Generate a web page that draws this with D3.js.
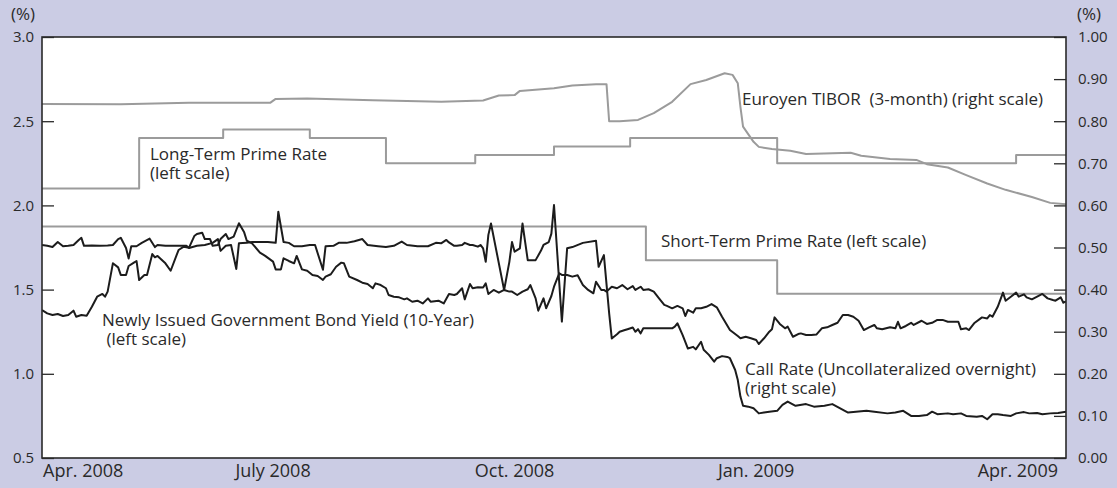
<!DOCTYPE html>
<html>
<head>
<meta charset="utf-8">
<script src="https://cdn.jsdelivr.net/npm/d3@7"></script>
<style>
  html, body { margin: 0; padding: 0; background: #cbcce4; }
  svg { display: block; font-family: "Open Sans", "Noto Sans", sans-serif; }
</style>
</head>
<body>
<svg id="chart" width="1117" height="488"></svg>
<script>
// --- data ---

var leftTicks = [0.5, 1.0, 1.5, 2.0, 2.5, 3.0];
var rightTicks = [0.0, 0.1, 0.2, 0.3, 0.4, 0.5, 0.6, 0.7, 0.8, 0.9, 1.0];
var xTickDates = ["2008-04-01", "2008-07-01", "2008-10-01", "2009-01-01", "2009-04-01"];
var xTickLabels = ["Apr. 2008", "July 2008", "Oct. 2008", "Jan. 2009", "Apr. 2009"];

// Euroyen TIBOR 3-month, right scale
var tibor = [
  ["2008-04-04",0.841],["2008-05-04",0.840],["2008-05-30",0.844],["2008-06-30",0.844],
  ["2008-07-02",0.853],["2008-07-14",0.854],["2008-08-08",0.850],["2008-09-03",0.846],
  ["2008-09-19",0.849],["2008-09-25",0.861],["2008-10-01",0.862],["2008-10-03",0.872],
  ["2008-10-16",0.878],["2008-10-23",0.885],["2008-11-01",0.888],["2008-11-05",0.888],
  ["2008-11-06",0.800],["2008-11-10",0.800],["2008-11-17",0.803],["2008-11-23",0.819],
  ["2008-11-30",0.846],["2008-12-07",0.888],["2008-12-13",0.898],["2008-12-20",0.914],
  ["2008-12-23",0.910],["2008-12-25",0.890],["2008-12-26",0.834],["2008-12-27",0.787],
  ["2008-12-31",0.751],["2009-01-02",0.739],["2009-01-07",0.734],["2009-01-14",0.730],
  ["2009-01-20",0.722],["2009-02-06",0.725],["2009-02-10",0.718],["2009-02-21",0.710],
  ["2009-03-03",0.708],["2009-03-07",0.698],["2009-03-15",0.690],["2009-03-22",0.672],
  ["2009-03-30",0.652],["2009-04-06",0.637],["2009-04-16",0.620],["2009-04-23",0.606],
  ["2009-04-29",0.603]
];

// Long-term prime rate, left scale (value from that date on)
var longPrime = [
  ["2008-04-04",2.10],["2008-05-11",2.40],["2008-06-12",2.45],["2008-07-15",2.40],
  ["2008-08-13",2.25],["2008-09-16",2.30],["2008-10-16",2.35],["2008-11-14",2.40],
  ["2009-01-09",2.25],["2009-04-10",2.30],["2009-04-29",2.30]
];

// Short-term prime rate, left scale (value from that date on)
var shortPrime = [
  ["2008-04-04",1.875],["2008-11-20",1.675],["2009-01-09",1.475],["2009-04-29",1.475]
];

// Newly issued 10-year government bond yield, left scale
var bondYield = [
  ["2008-04-04",1.379],["2008-04-06",1.359],["2008-04-08",1.349],["2008-04-10",1.355],
  ["2008-04-12",1.343],["2008-04-14",1.349],["2008-04-16",1.375],["2008-04-17",1.339],
  ["2008-04-19",1.349],["2008-04-21",1.345],["2008-04-23",1.398],["2008-04-25",1.458],
  ["2008-04-27",1.474],["2008-04-28",1.458],["2008-04-29",1.488],["2008-05-01",1.656],
  ["2008-05-03",1.632],["2008-05-04",1.587],["2008-05-06",1.587],["2008-05-07",1.640],
  ["2008-05-09",1.660],["2008-05-10",1.670],["2008-05-11",1.557],["2008-05-13",1.587],
  ["2008-05-14",1.587],["2008-05-16",1.711],["2008-05-17",1.692],["2008-05-18",1.700],
  ["2008-05-21",1.656],["2008-05-23",1.612],["2008-05-26",1.735],["2008-05-28",1.755],
  ["2008-05-30",1.749],["2008-06-01",1.818],["2008-06-02",1.830],["2008-06-04",1.838],
  ["2008-06-05",1.800],["2008-06-07",1.800],["2008-06-08",1.760],["2008-06-10",1.765],
  ["2008-06-11",1.800],["2008-06-13",1.830],["2008-06-14",1.800],["2008-06-16",1.815],
  ["2008-06-18",1.894],["2008-06-20",1.840],["2008-06-21",1.790],["2008-06-23",1.775],
  ["2008-06-26",1.720],["2008-06-28",1.700],["2008-07-01",1.666],["2008-07-02",1.620],
  ["2008-07-04",1.620],["2008-07-05",1.686],["2008-07-07",1.670],["2008-07-09",1.656],
  ["2008-07-10",1.700],["2008-07-12",1.620],["2008-07-14",1.612],["2008-07-16",1.587],
  ["2008-07-18",1.581],["2008-07-20",1.557],["2008-07-21",1.577],["2008-07-23",1.591],
  ["2008-07-25",1.636],["2008-07-27",1.660],["2008-07-28",1.656],["2008-07-30",1.577],
  ["2008-08-02",1.557],["2008-08-04",1.541],["2008-08-06",1.533],["2008-08-08",1.508],
  ["2008-08-09",1.537],["2008-08-11",1.527],["2008-08-13",1.508],["2008-08-14",1.468],
  ["2008-08-16",1.458],["2008-08-18",1.454],["2008-08-20",1.442],["2008-08-21",1.448],
  ["2008-08-23",1.428],["2008-08-25",1.434],["2008-08-27",1.418],["2008-08-29",1.448],
  ["2008-08-30",1.428],["2008-09-02",1.434],["2008-09-04",1.418],["2008-09-06",1.474],
  ["2008-09-08",1.468],["2008-09-09",1.474],["2008-09-11",1.508],["2008-09-12",1.442],
  ["2008-09-14",1.533],["2008-09-15",1.508],["2008-09-17",1.514],["2008-09-19",1.512],
  ["2008-09-20",1.537],["2008-09-21",1.474],["2008-09-23",1.498],["2008-09-25",1.482],
  ["2008-09-27",1.498],["2008-09-29",1.488],["2008-09-30",1.488],["2008-10-02",1.468],
  ["2008-10-04",1.488],["2008-10-06",1.502],["2008-10-07",1.527],["2008-10-09",1.448],
  ["2008-10-10",1.375],["2008-10-12",1.448],["2008-10-13",1.389],["2008-10-15",1.462],
  ["2008-10-16",1.517],["2008-10-18",1.597],["2008-10-19",1.587],["2008-10-21",1.587],
  ["2008-10-23",1.577],["2008-10-25",1.585],["2008-10-27",1.527],["2008-10-29",1.498],
  ["2008-10-31",1.478],["2008-11-01",1.547],["2008-11-03",1.498],["2008-11-04",1.498],
  ["2008-11-05",1.488],["2008-11-07",1.517],["2008-11-09",1.508],["2008-11-11",1.527],
  ["2008-11-13",1.502],["2008-11-15",1.521],["2008-11-16",1.498],["2008-11-18",1.517],
  ["2008-11-19",1.498],["2008-11-21",1.502],["2008-11-23",1.488],["2008-11-25",1.448],
  ["2008-11-27",1.409],["2008-11-28",1.403],["2008-11-30",1.389],["2008-12-02",1.403],
  ["2008-12-04",1.389],["2008-12-05",1.343],["2008-12-06",1.379],["2008-12-08",1.363],
  ["2008-12-09",1.389],["2008-12-11",1.389],["2008-12-13",1.398],["2008-12-15",1.414],
  ["2008-12-17",1.395],["2008-12-19",1.339],["2008-12-22",1.260],["2008-12-25",1.224],
  ["2008-12-26",1.211],["2008-12-28",1.220],["2008-12-30",1.211],["2009-01-01",1.201],
  ["2009-01-02",1.177],["2009-01-04",1.211],["2009-01-06",1.250],["2009-01-07",1.264],
  ["2009-01-08",1.335],["2009-01-10",1.296],["2009-01-12",1.270],["2009-01-13",1.280],
  ["2009-01-15",1.220],["2009-01-17",1.236],["2009-01-18",1.240],["2009-01-20",1.230],
  ["2009-01-22",1.230],["2009-01-24",1.234],["2009-01-26",1.270],["2009-01-28",1.276],
  ["2009-01-30",1.290],["2009-02-01",1.303],["2009-02-03",1.349],["2009-02-05",1.349],
  ["2009-02-07",1.339],["2009-02-09",1.315],["2009-02-11",1.260],["2009-02-13",1.276],
  ["2009-02-15",1.290],["2009-02-16",1.270],["2009-02-18",1.264],["2009-02-21",1.276],
  ["2009-02-23",1.270],["2009-02-24",1.309],["2009-02-25",1.270],["2009-02-27",1.284],
  ["2009-03-01",1.303],["2009-03-02",1.290],["2009-03-05",1.315],["2009-03-07",1.296],
  ["2009-03-09",1.303],["2009-03-11",1.320],["2009-03-13",1.320],["2009-03-15",1.309],
  ["2009-03-17",1.309],["2009-03-19",1.309],["2009-03-20",1.264],["2009-03-22",1.270],
  ["2009-03-23",1.260],["2009-03-25",1.300],["2009-03-28",1.335],["2009-03-30",1.329],
  ["2009-03-31",1.349],["2009-04-01",1.339],["2009-04-03",1.398],["2009-04-05",1.482],
  ["2009-04-06",1.434],["2009-04-08",1.458],["2009-04-10",1.482],["2009-04-11",1.458],
  ["2009-04-13",1.472],["2009-04-14",1.454],["2009-04-16",1.442],["2009-04-18",1.458],
  ["2009-04-20",1.474],["2009-04-22",1.448],["2009-04-24",1.438],["2009-04-25",1.434],
  ["2009-04-27",1.454],["2009-04-28",1.422],["2009-04-29",1.430]
];

// Call rate (uncollateralized overnight), right scale
var callRate = [
  ["2008-04-04",0.506],["2008-04-06",0.504],["2008-04-08",0.501],["2008-04-10",0.513],
  ["2008-04-12",0.503],["2008-04-14",0.504],["2008-04-16",0.506],["2008-04-18",0.518],
  ["2008-04-19",0.523],["2008-04-20",0.504],["2008-04-23",0.505],["2008-04-26",0.504],
  ["2008-04-29",0.505],["2008-05-01",0.506],["2008-05-03",0.520],["2008-05-04",0.523],
  ["2008-05-06",0.499],["2008-05-07",0.474],["2008-05-08",0.503],["2008-05-10",0.503],
  ["2008-05-12",0.511],["2008-05-15",0.521],["2008-05-17",0.501],["2008-05-18",0.506],
  ["2008-05-21",0.504],["2008-05-27",0.504],["2008-05-29",0.504],["2008-05-30",0.499],
  ["2008-06-02",0.504],["2008-06-05",0.506],["2008-06-08",0.511],["2008-06-10",0.520],
  ["2008-06-11",0.492],["2008-06-13",0.504],["2008-06-15",0.506],["2008-06-17",0.449],
  ["2008-06-18",0.510],["2008-06-21",0.511],["2008-06-23",0.513],["2008-06-26",0.513],
  ["2008-06-29",0.513],["2008-07-02",0.511],["2008-07-03",0.585],["2008-07-05",0.513],
  ["2008-07-07",0.511],["2008-07-09",0.503],["2008-07-12",0.503],["2008-07-15",0.506],
  ["2008-07-17",0.506],["2008-07-20",0.447],["2008-07-21",0.503],["2008-07-24",0.504],
  ["2008-07-26",0.511],["2008-07-29",0.511],["2008-08-01",0.515],["2008-08-04",0.520],
  ["2008-08-06",0.506],["2008-08-10",0.503],["2008-08-13",0.501],["2008-08-16",0.504],
  ["2008-08-19",0.514],["2008-08-21",0.506],["2008-08-25",0.503],["2008-08-29",0.503],
  ["2008-09-01",0.511],["2008-09-03",0.510],["2008-09-05",0.518],["2008-09-06",0.512],
  ["2008-09-08",0.504],["2008-09-09",0.504],["2008-09-11",0.506],["2008-09-12",0.511],
  ["2008-09-14",0.506],["2008-09-15",0.506],["2008-09-17",0.502],["2008-09-18",0.506],
  ["2008-09-19",0.498],["2008-09-20",0.466],["2008-09-21",0.530],["2008-09-22",0.557],
  ["2008-09-27",0.399],["2008-09-29",0.466],["2008-09-30",0.513],["2008-10-01",0.490],
  ["2008-10-03",0.498],["2008-10-04",0.557],["2008-10-06",0.470],["2008-10-08",0.470],
  ["2008-10-09",0.470],["2008-10-11",0.492],["2008-10-12",0.506],["2008-10-14",0.513],
  ["2008-10-15",0.533],["2008-10-16",0.601],["2008-10-19",0.324],["2008-10-21",0.498],
  ["2008-10-23",0.501],["2008-10-27",0.511],["2008-11-01",0.516],["2008-11-02",0.454],
  ["2008-11-04",0.482],["2008-11-06",0.344],["2008-11-07",0.284],["2008-11-09",0.294],
  ["2008-11-10",0.300],["2008-11-12",0.304],["2008-11-13",0.306],["2008-11-15",0.310],
  ["2008-11-16",0.300],["2008-11-17",0.306],["2008-11-18",0.296],["2008-11-19",0.308],
  ["2008-11-25",0.308],["2008-11-30",0.308],["2008-12-01",0.312],["2008-12-02",0.320],
  ["2008-12-04",0.292],["2008-12-06",0.260],["2008-12-08",0.264],["2008-12-09",0.258],
  ["2008-12-11",0.276],["2008-12-12",0.257],["2008-12-14",0.245],["2008-12-16",0.229],
  ["2008-12-17",0.237],["2008-12-19",0.242],["2008-12-21",0.240],["2008-12-22",0.237],
  ["2008-12-24",0.209],["2008-12-25",0.185],["2008-12-26",0.146],["2008-12-27",0.124],
  ["2008-12-29",0.122],["2008-12-31",0.118],["2009-01-02",0.106],["2009-01-04",0.108],
  ["2009-01-06",0.110],["2009-01-09",0.112],["2009-01-11",0.126],["2009-01-13",0.134],
  ["2009-01-16",0.124],["2009-01-20",0.128],["2009-01-23",0.122],["2009-01-27",0.124],
  ["2009-01-30",0.128],["2009-02-02",0.118],["2009-02-05",0.108],["2009-02-08",0.110],
  ["2009-02-12",0.112],["2009-02-15",0.110],["2009-02-20",0.106],["2009-02-23",0.108],
  ["2009-02-26",0.112],["2009-03-01",0.100],["2009-03-04",0.100],["2009-03-07",0.102],
  ["2009-03-09",0.110],["2009-03-11",0.104],["2009-03-15",0.106],["2009-03-17",0.104],
  ["2009-03-20",0.106],["2009-03-22",0.100],["2009-03-26",0.098],["2009-03-28",0.100],
  ["2009-03-30",0.092],["2009-04-01",0.104],["2009-04-03",0.104],["2009-04-05",0.102],
  ["2009-04-08",0.100],["2009-04-10",0.106],["2009-04-13",0.109],["2009-04-15",0.106],
  ["2009-04-18",0.107],["2009-04-20",0.104],["2009-04-23",0.106],["2009-04-26",0.107],
  ["2009-04-29",0.110]
];

// --- chart ---

var chart = {
	box: { left: 42, right: 1066, top: 37, bottom: 458 },
	grey: "#9b9b9b",
	black: "#1c1c1c",
	ink: "#2a2a2a",
	tickSize: 15,    // axis numbers
	labelSize: 18,   // month labels
	noteSize: 17,    // series notes and (%)

	init: function() {
		var parse = d3.timeParse("%Y-%m-%d"),
			b = chart.box;

		chart.svg = d3.select("#chart");

		chart.x = d3.scaleTime()
			.domain([parse("2008-04-04"), parse("2009-04-29")])
			.range([b.left, b.right]);
		chart.yL = d3.scaleLinear().domain([0.5, 3.0]).range([b.bottom, b.top]);
		chart.yR = d3.scaleLinear().domain([0, 1]).range([b.bottom, b.top]);

		var rows = function(arr) {
			return arr.map(function(d) { return { date: parse(d[0]), value: d[1] }; });
		};

		chart.svg.append("rect")
			.attr("x", b.left).attr("y", b.top)
			.attr("width", b.right - b.left).attr("height", b.bottom - b.top)
			.attr("fill", "#fff");

		chart.svg.append("clipPath").attr("id", "plotclip")
			.append("rect")
			.attr("x", b.left).attr("y", b.top)
			.attr("width", b.right - b.left).attr("height", b.bottom - b.top);

		chart.axes();

		var plot = chart.svg.append("g").attr("clip-path", "url(#plotclip)");

		chart.line(plot, rows(tibor), chart.yR, chart.grey, d3.curveLinear);
		chart.line(plot, rows(longPrime), chart.yL, chart.grey, d3.curveStepAfter);
		chart.line(plot, rows(shortPrime), chart.yL, chart.grey, d3.curveStepAfter);
		chart.line(plot, rows(callRate), chart.yR, chart.black, d3.curveLinear);
		chart.line(plot, rows(bondYield), chart.yL, chart.black, d3.curveLinear);

		// frame
		chart.svg.append("rect")
			.attr("x", b.left).attr("y", b.top)
			.attr("width", b.right - b.left).attr("height", b.bottom - b.top)
			.attr("fill", "none")
			.attr("stroke", chart.ink)
			.attr("stroke-width", 1.6);

		chart.notes();
	},

	line: function(g, data, y, colour, curve) {
		var path = d3.line()
			.x(function(d) { return chart.x(d.date); })
			.y(function(d) { return y(d.value); })
			.curve(curve);
		g.append("path")
			.datum(data)
			.attr("d", path)
			.attr("fill", "none")
			.attr("stroke", colour)
			.attr("stroke-width", 2)
			.attr("stroke-linejoin", "round");
	},

	axes: function() {
		var b = chart.box,
			parse = d3.timeParse("%Y-%m-%d");

		var left = chart.svg.append("g")
			.attr("transform", "translate(" + b.left + ",0)")
			.call(d3.axisLeft(chart.yL).tickValues(leftTicks).tickFormat(d3.format(".1f"))
				.tickSize(-12).tickPadding(8));
		var right = chart.svg.append("g")
			.attr("transform", "translate(" + b.right + ",0)")
			.call(d3.axisRight(chart.yR).tickValues(rightTicks).tickFormat(d3.format(".2f"))
				.tickSize(-12).tickPadding(12));

		[left, right].forEach(function(g) {
			g.select(".domain").remove();
			g.attr("font-family", null).attr("font-size", null);
			g.selectAll(".tick line").attr("stroke", chart.ink).attr("stroke-width", 1.3);
			g.selectAll(".tick text")
				.attr("fill", chart.ink)
				.style("font-size", chart.tickSize + "px");
		});

		chart.svg.append("text").text("(%)")
			.attr("x", 11).attr("y", 20)
			.attr("fill", chart.ink).style("font-size", chart.noteSize + "px");
		chart.svg.append("text").text("(%)")
			.attr("x", 1077).attr("y", 20)
			.attr("fill", chart.ink).style("font-size", chart.noteSize + "px");

		// month labels under the frame, no tick marks
		var last = xTickDates.length - 1;
		chart.svg.append("g").selectAll("text")
			.data(xTickDates)
			.join("text")
			.attr("x", function(d, i) {
				if (i === 0) return b.left + 1;
				if (i === last) return b.right - 8;
				return chart.x(parse(d));
			})
			.attr("y", 477)
			.attr("text-anchor", function(d, i) {
				return i === 0 ? "start" : (i === last ? "end" : "middle");
			})
			.attr("fill", chart.ink)
			.style("font-size", chart.labelSize + "px")
			.text(function(d, i) { return xTickLabels[i]; });
	},

	notes: function() {
		var notes = [
			{ x: 742, y: 105, lines: ["Euroyen TIBOR\u00a0\u00a0(3-month) (right scale)"] },
			{ x: 150, y: 160, lines: ["Long-Term Prime Rate", "(left scale)"] },
			{ x: 661, y: 247, lines: ["Short-Term Prime Rate (left scale)"] },
			{ x: 102, y: 326, lines: ["Newly Issued Government Bond Yield (10-Year)", "\u00a0(left scale)"] },
			{ x: 745, y: 375, lines: ["Call Rate (Uncollateralized overnight)", "(right scale)"] }
		];
		notes.forEach(function(n) {
			var t = chart.svg.append("text")
				.attr("x", n.x).attr("y", n.y)
				.attr("fill", chart.ink)
				.style("font-size", chart.noteSize + "px");
			n.lines.forEach(function(s, i) {
				t.append("tspan").attr("x", n.x).attr("dy", i ? 18.5 : 0).text(s);
			});
		});
	}
};

chart.init();
</script>
</body>
</html>
